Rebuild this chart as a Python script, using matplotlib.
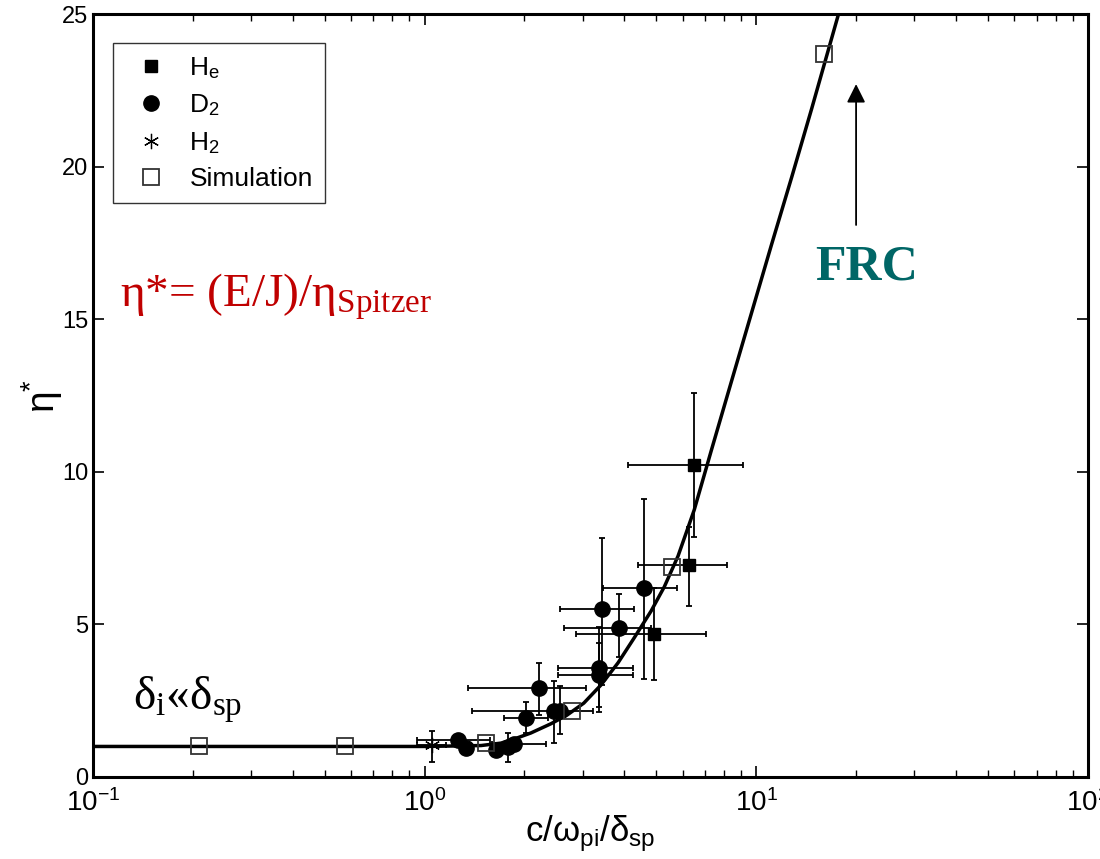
import numpy as np
import matplotlib
matplotlib.use("Agg")
import matplotlib.pyplot as plt
from matplotlib.ticker import FuncFormatter, LogLocator, NullFormatter

plt.rcParams['font.family'] = ['Liberation Sans Narrow', 'Liberation Sans', 'DejaVu Sans']
plt.rcParams['mathtext.fontset'] = 'custom'
plt.rcParams['mathtext.rm'] = 'Liberation Serif'
plt.rcParams['mathtext.it'] = 'Liberation Serif:italic'
plt.rcParams['mathtext.sf'] = 'Liberation Sans'

# fitted curve
curve_x = [0.1, 1.0, 1.48, 1.70, 1.88, 2.09, 2.40, 2.69, 3.02, 3.40, 3.83, 4.28,
           4.82, 5.28, 5.81, 6.50, 7.31, 8.40, 9.66, 11.1, 12.8, 14.7, 17.7]
curve_y = [1.0, 1.0, 1.03, 1.11, 1.26, 1.44, 1.74, 2.03, 2.42, 3.01, 3.74, 4.55,
           5.44, 6.23, 7.24, 8.75, 10.68, 12.93, 15.18, 17.42, 19.67, 21.91, 25.0]

# He (filled squares)
he_x = [4.91, 6.28, 6.49]
he_y = [4.70, 6.95, 10.22]
he_xlo = [2.86, 4.40, 4.10]
he_xhi = [7.06, 8.18, 9.13]
he_ylo = [3.18, 5.60, 7.87]
he_yhi = [6.20, 8.20, 12.57]

# D2 (filled circles)
d2_x = [1.26, 1.33, 1.64, 1.78, 1.86, 2.02, 2.21, 2.45, 2.56, 3.36, 3.36, 3.43, 3.86, 4.60]
d2_y = [1.21, 0.94, 0.90, 0.99, 1.07, 1.92, 2.90, 2.15, 2.17, 3.56, 3.34, 5.49, 4.87, 6.20]
d2_xlo = [0.95, 1.33, 1.64, 1.78, 1.60, 1.73, 1.35, 2.45, 1.39, 2.52, 2.52, 2.56, 2.63, 3.45]
d2_xhi = [1.58, 1.33, 1.64, 1.78, 2.32, 2.35, 3.06, 2.45, 3.21, 4.25, 4.25, 4.28, 4.82, 5.77]
d2_ylo = [1.00, 0.94, 0.90, 0.50, 1.07, 1.44, 2.03, 1.10, 1.41, 2.13, 2.30, 3.00, 3.94, 3.20]
d2_yhi = [1.40, 0.94, 0.90, 1.45, 1.07, 2.46, 3.72, 3.15, 2.98, 4.90, 4.40, 7.83, 6.01, 9.10]

# H2 (asterisk)
h2_x = [1.05]
h2_y = [1.05]
h2_xlo = [0.95]
h2_xhi = [1.16]
h2_ylo = [0.50]
h2_yhi = [1.51]

# simulation (open squares)
sim_x = [0.209, 0.577, 1.53, 2.79, 5.56, 16.0]
sim_y = [1.0, 1.0, 1.12, 2.17, 6.89, 23.7]

fig = plt.figure(figsize=(11, 8.59), dpi=100)
ax = fig.add_axes([0.0845, 0.0955, 0.9045, 0.888])


def errs(x, y, xlo, xhi, ylo, yhi):
    x = np.array(x); y = np.array(y)
    xe = [x - np.array(xlo), np.array(xhi) - x]
    ye = [y - np.array(ylo), np.array(yhi) - y]
    ax.errorbar(x, y, xerr=xe, yerr=ye, fmt='none', ecolor='k',
                elinewidth=1.3, capsize=2.5, capthick=1.3, zorder=2)


errs(he_x, he_y, he_xlo, he_xhi, he_ylo, he_yhi)
errs(d2_x, d2_y, d2_xlo, d2_xhi, d2_ylo, d2_yhi)
errs(h2_x, h2_y, h2_xlo, h2_xhi, h2_ylo, h2_yhi)

ax.plot(curve_x, curve_y, color='k', lw=2.5, zorder=3, solid_joinstyle='round')

ax.plot(he_x, he_y, 's', color='k', ms=8, ls='none', zorder=4, label='H$_\\mathsf{e}$')
ax.plot(d2_x, d2_y, 'o', color='k', ms=11, ls='none', zorder=4, label='D$_\\mathsf{2}$')
ax.plot(h2_x, h2_y, marker=(6, 2, 0), color='k', ms=11, mew=0.9, ls='none', zorder=4,
        label='H$_\\mathsf{2}$')
ax.plot(sim_x, sim_y, 's', mfc='none', mec='#333333', mew=1.3, ms=12, ls='none', zorder=5,
        label='Simulation')

ax.set_xscale('log')
ax.set_xlim(0.1, 100)
ax.set_ylim(0, 25)
ax.set_yticks([0, 5, 10, 15, 20, 25])
ax.xaxis.set_major_locator(LogLocator(base=10, numticks=10))
ax.xaxis.set_minor_locator(LogLocator(base=10, subs=np.arange(2, 10), numticks=10))
ax.xaxis.set_minor_formatter(NullFormatter())
ax.xaxis.set_major_formatter(FuncFormatter(
    lambda v, p: r'$\mathsf{10^{%d}}$' % int(round(np.log10(v)))))

ax.tick_params(which='both', direction='in', top=True, right=True, labelsize=17)
ax.tick_params(axis='x', labelsize=20, pad=9)
ax.tick_params(which='major', length=8, width=1.2)
ax.tick_params(which='minor', length=5, width=1.0)
for s in ax.spines.values():
    s.set_linewidth(2.2)

ax.set_xlabel(r'$\mathsf{c/\omega_{pi}/\delta_{sp}}$', fontsize=25, labelpad=-3)
ax.set_ylabel(r'$\mathsf{\eta^{*}}$', fontsize=28, labelpad=-2)

leg = ax.legend(loc='upper left', bbox_to_anchor=(0.02, 0.962), fontsize=19,
                frameon=True, fancybox=False, edgecolor='k', borderpad=0.45,
                borderaxespad=0, handletextpad=0.45, labelspacing=0.45, handlelength=2.0)
leg.get_frame().set_linewidth(1.0)

ax.annotate('', xy=(20, 22.8), xytext=(20, 18.0),
            arrowprops=dict(arrowstyle='-|>', color='k', lw=1.3, mutation_scale=28))
ax.text(21.5, 16.7, 'FRC', color='#006666', fontsize=36, fontweight='bold',
        family='Liberation Serif', ha='center', va='center')

ax.text(0.121, 15.4, 'η*= (E/J)/η$_{\\mathrm{Spitzer}}$', color='#c00000', fontsize=34,
        family='Liberation Serif', ha='left', va='baseline')
ax.text(0.132, 2.2, 'δ$_{\\mathrm{i}}$«δ$_{\\mathrm{sp}}$', color='k', fontsize=34,
        family='Liberation Serif', ha='left', va='baseline')

fig.savefig('out.png', dpi=100)
